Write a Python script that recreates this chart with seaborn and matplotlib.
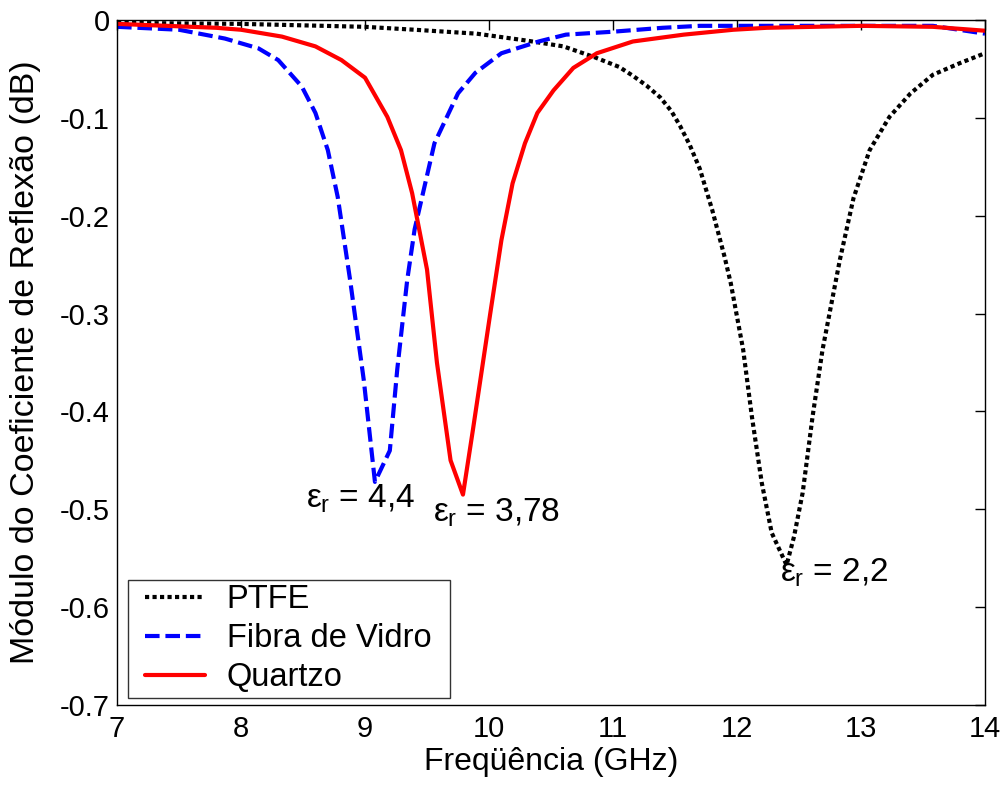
import matplotlib
matplotlib.use("Agg")
import matplotlib.pyplot as plt
import seaborn as sns
import numpy as np
import pandas as pd

# ---- data ----
ptfe_f = [7.0, 8.0, 9.0, 9.4, 9.9, 10.3, 10.6, 10.85, 11.05, 11.16, 11.27, 11.38, 11.47,
          11.54, 11.62, 11.7, 11.8, 11.9, 11.95, 12.05, 12.12, 12.2, 12.28, 12.4, 12.46,
          12.53, 12.61, 12.69, 12.83, 12.94, 13.07, 13.23, 13.4, 13.58, 13.8, 14.0]
ptfe_db = [-0.003, -0.004, -0.007, -0.010, -0.014, -0.021, -0.027, -0.038, -0.048, -0.057,
           -0.067, -0.079, -0.093, -0.108, -0.128, -0.152, -0.194, -0.242, -0.269, -0.337,
           -0.405, -0.473, -0.524, -0.557, -0.528, -0.483, -0.405, -0.337, -0.245, -0.182,
           -0.133, -0.099, -0.075, -0.056, -0.044, -0.034]

fv_f = [7.0, 7.5, 7.87, 8.14, 8.3, 8.49, 8.6, 8.7, 8.78, 8.88, 8.99, 9.08, 9.2, 9.26,
        9.34, 9.4, 9.56, 9.75, 9.89, 10.1, 10.4, 10.62, 11.0, 11.4, 11.7, 12.5, 13.58, 14.0]
fv_db = [-0.007, -0.010, -0.019, -0.029, -0.041, -0.068, -0.095, -0.133, -0.181, -0.266,
         -0.368, -0.472, -0.440, -0.357, -0.266, -0.214, -0.126, -0.075, -0.054, -0.034,
         -0.022, -0.015, -0.012, -0.008, -0.006, -0.006, -0.006, -0.014]

qz_f = [7.0, 7.8, 8.0, 8.33, 8.6, 8.81, 9.0, 9.18, 9.29, 9.38, 9.5, 9.58, 9.69, 9.79,
        9.87, 10.01, 10.1, 10.19, 10.29, 10.39, 10.52, 10.68, 10.87, 11.16, 11.57, 11.97,
        12.24, 13.0, 13.58, 14.0]
qz_db = [-0.004, -0.008, -0.010, -0.017, -0.027, -0.041, -0.059, -0.099, -0.133, -0.177,
         -0.255, -0.35, -0.45, -0.485, -0.419, -0.30, -0.225, -0.167, -0.126, -0.095,
         -0.072, -0.049, -0.034, -0.022, -0.015, -0.010, -0.008, -0.006, -0.007, -0.011]

series_names = ["PTFE", "Fibra de Vidro", "Quartzo"]
annot_text = ["4,4", "3,78", "2,2"]
annot_pos = [(8.52, -0.489), (9.55, -0.504), (12.35, -0.565)]
x_ticks = [7, 8, 9, 10, 11, 12, 13, 14]
y_ticks = [0, -0.1, -0.2, -0.3, -0.4, -0.5, -0.6, -0.7]
y_ticklabels = ["0", "-0.1", "-0.2", "-0.3", "-0.4", "-0.5", "-0.6", "-0.7"]

# ---- style ----
sns.set_theme(style="white")
plt.rcParams["font.family"] = ["Liberation Sans", "DejaVu Sans"]
plt.rcParams["axes.unicode_minus"] = False
plt.rcParams["text.color"] = "black"
plt.rcParams["axes.labelcolor"] = "black"
plt.rcParams["mathtext.fontset"] = "custom"
plt.rcParams["mathtext.rm"] = "Liberation Sans"
plt.rcParams["mathtext.it"] = "Liberation Sans"
plt.rcParams["mathtext.bf"] = "Liberation Sans:bold"

fig = plt.figure(figsize=(10.03, 7.86), dpi=100)
ax = fig.add_axes([0.1167, 0.103, 0.8653, 0.8716])

df_ptfe = pd.DataFrame({"f": ptfe_f, "db": ptfe_db})
df_fv = pd.DataFrame({"f": fv_f, "db": fv_db})
df_qz = pd.DataFrame({"f": qz_f, "db": qz_db})

sns.lineplot(data=df_ptfe, x="f", y="db", ax=ax, color="black", lw=3,
             label=series_names[0], sort=False)
ax.lines[-1].set_dashes((1.0, 0.8))
sns.lineplot(data=df_fv, x="f", y="db", ax=ax, color="#0000ff", lw=3,
             label=series_names[1], sort=False)
ax.lines[-1].set_dashes((3.5, 1.4))
sns.lineplot(data=df_qz, x="f", y="db", ax=ax, color="#ff0000", lw=3,
             label=series_names[2], sort=False)

ax.set_xlim(7, 14)
ax.set_ylim(-0.7, 0)
ax.set_xticks(x_ticks)
ax.set_xticklabels([str(t) for t in x_ticks])
ax.set_yticks(y_ticks)
ax.set_yticklabels(y_ticklabels)
ax.tick_params(direction="in", length=7, width=1, top=True, right=True,
               labelsize=21, colors="black", pad=5)
ax.tick_params(axis="x", pad=7)
for s in ax.spines.values():
    s.set_color("black")
    s.set_linewidth(1)
    s.set_visible(True)

ax.set_xlabel("Freqüência (GHz)", fontsize=23, labelpad=3)
ax.set_ylabel("Módulo do Coeficiente de Reflexão (dB)", fontsize=24.5, labelpad=14)

for txt, (xx, yy) in zip(annot_text, annot_pos):
    ax.text(xx, yy, r"$\varepsilon_{\mathregular{r}}$ = " + txt, fontsize=24,
            ha="left", va="center", color="black")

leg = ax.legend(loc="lower left", bbox_to_anchor=(0.0127, 0.0102, 0.371, 0.168),
                mode="expand", borderaxespad=0,
                fontsize=23.5, frameon=True, fancybox=False, handlelength=2.2,
                handletextpad=0.67, borderpad=0.15, labelspacing=0.24)
leg.get_frame().set_edgecolor("black")
leg.get_frame().set_linewidth(1)
for h in leg.get_lines():
    h.set_linewidth(3)
    xd = np.asarray(h.get_xdata(), dtype=float)
    h.set_xdata(np.linspace(xd[0] + 8.6, xd[-1], len(xd)))

fig.savefig("out.png", dpi=100, facecolor="white")
